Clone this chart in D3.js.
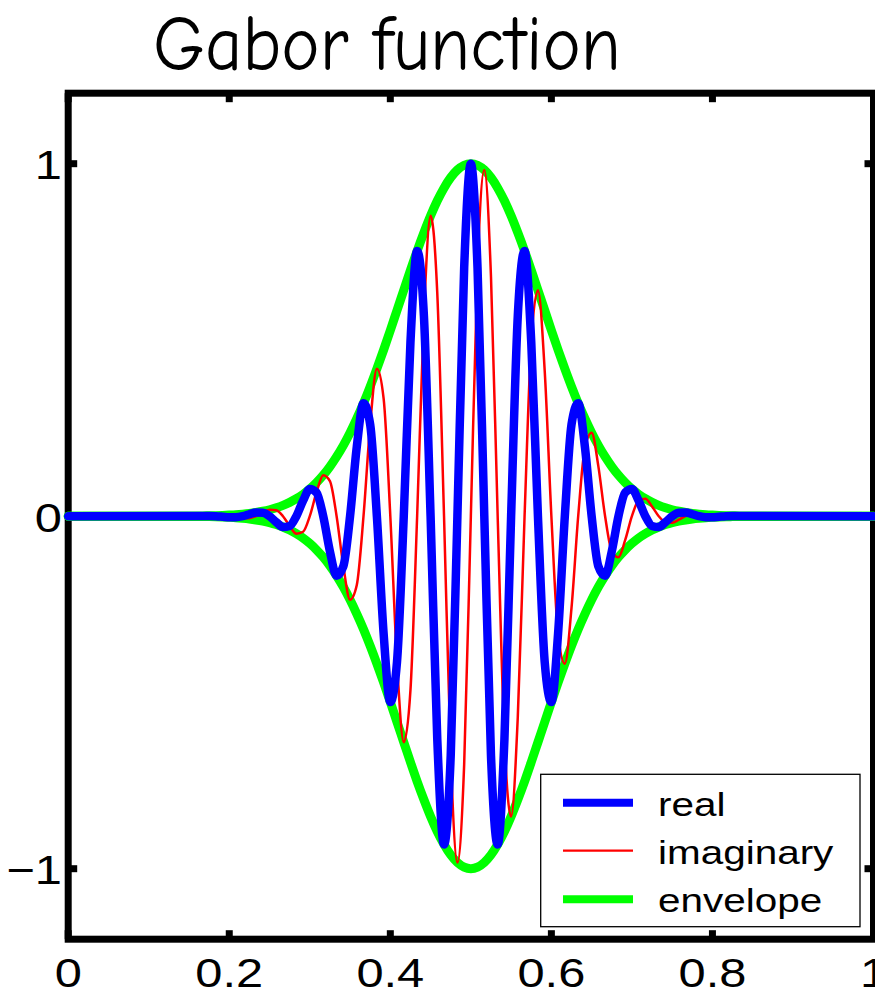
<!DOCTYPE html>
<html>
<head>
<meta charset="utf-8">
<script src="https://cdn.jsdelivr.net/npm/d3@7"></script>
<style>
  html, body { margin: 0; padding: 0; background: #fff; }
  svg { display: block; }
</style>
</head>
<body>
<svg id="chart" width="875" height="989"></svg>
<script>
// Sample positions along x (eighth-period spacing across the wave packet)
const sampleX = [0,
  0.1667, 0.175, 0.1833, 0.1917, 0.2, 0.2083, 0.2167, 0.225, 0.2333, 0.2417,
  0.25, 0.2583, 0.2667, 0.275, 0.2833, 0.2917, 0.3, 0.3083, 0.3167, 0.325,
  0.3333, 0.3417, 0.35, 0.3583, 0.3667, 0.375, 0.3833, 0.3917, 0.4, 0.4083,
  0.4167, 0.425, 0.4333, 0.4417, 0.45, 0.4583, 0.4667, 0.475, 0.4833, 0.4917,
  0.5,
  0.5083, 0.5167, 0.525, 0.5333, 0.5417, 0.55, 0.5583, 0.5667, 0.575, 0.5833,
  0.5917, 0.6, 0.6083, 0.6167, 0.625, 0.6333, 0.6417, 0.65, 0.6583, 0.6667,
  0.675, 0.6833, 0.6917, 0.7, 0.7083, 0.7167, 0.725, 0.7333, 0.7417, 0.75,
  0.7583, 0.7667, 0.775, 0.7833, 0.7917, 0.8, 0.8083, 0.8167, 0.825, 0.8333,
  1];

// Real part
const realPart = [0,
  0.0008, 0.0008, 0, -0.0016, -0.0032, -0.0030, 0, 0.0056, 0.0106, 0.0099,
  0, -0.0168, -0.0307, -0.0277, 0, 0.0440, 0.0773, 0.0674, 0, -0.0996,
  -0.1690, -0.1421, 0, 0.1957, 0.3205, 0.2601, 0, -0.3336, -0.5273, -0.4130,
  0, 0.4933, 0.7525, 0.5687, 0, -0.6327, -0.9314, -0.6794, 0, 0.7040,
  1,
  0.7040, 0, -0.6794, -0.9314, -0.6327, 0, 0.5687, 0.7525, 0.4933, 0,
  -0.4130, -0.5273, -0.3336, 0, 0.2601, 0.3205, 0.1957, 0, -0.1421, -0.1690,
  -0.0996, 0, 0.0674, 0.0773, 0.0440, 0, -0.0277, -0.0307, -0.0168, 0,
  0.0099, 0.0106, 0.0056, 0, -0.0030, -0.0032, -0.0016, 0, 0.0008, 0.0008,
  0];

// Imaginary part
const imagPart = [0,
  0, 0.0008, 0.0016, 0.0016, 0, -0.0030, -0.0059, -0.0056, 0, 0.0099,
  0.0183, 0.0168, 0, -0.0277, -0.0496, -0.0440, 0, 0.0674, 0.1164, 0.0996,
  0, -0.1421, -0.2369, -0.1957, 0, 0.2601, 0.4185, 0.3336, 0, -0.4130,
  -0.6412, -0.4933, 0, 0.5687, 0.8521, 0.6327, 0, -0.6794, -0.9824, -0.7040,
  0,
  0.7040, 0.9824, 0.6794, 0, -0.6327, -0.8521, -0.5687, 0, 0.4933, 0.6412,
  0.4130, 0, -0.3336, -0.4185, -0.2601, 0, 0.1957, 0.2369, 0.1421, 0,
  -0.0996, -0.1164, -0.0674, 0, 0.0440, 0.0496, 0.0277, 0, -0.0168, -0.0183,
  -0.0099, 0, 0.0056, 0.0059, 0.0030, 0, -0.0016, -0.0016, -0.0008, 0,
  0];

// Gaussian envelope (magnitude)
const envelope = [0,
  0.0008, 0.0012, 0.0016, 0.0023, 0.0032, 0.0043, 0.0059, 0.0079, 0.0106, 0.0140,
  0.0183, 0.0238, 0.0307, 0.0392, 0.0496, 0.0622, 0.0773, 0.0953, 0.1164, 0.1409,
  0.1690, 0.2010, 0.2369, 0.2768, 0.3205, 0.3679, 0.4185, 0.4718, 0.5273, 0.5841,
  0.6412, 0.6977, 0.7525, 0.8043, 0.8521, 0.8948, 0.9314, 0.9608, 0.9824, 0.9956,
  1,
  0.9956, 0.9824, 0.9608, 0.9314, 0.8948, 0.8521, 0.8043, 0.7525, 0.6977, 0.6412,
  0.5841, 0.5273, 0.4718, 0.4185, 0.3679, 0.3205, 0.2768, 0.2369, 0.2010, 0.1690,
  0.1409, 0.1164, 0.0953, 0.0773, 0.0622, 0.0496, 0.0392, 0.0307, 0.0238, 0.0183,
  0.0140, 0.0106, 0.0079, 0.0059, 0.0043, 0.0032, 0.0023, 0.0016, 0.0012, 0.0008,
  0];

const xTicks = [0, 0.2, 0.4, 0.6, 0.8, 1];
const xTickLabels = ["0", "0.2", "0.4", "0.6", "0.8", "1"];
const yTicks = [-1, 0, 1];
const yTickLabels = ["\u22121", "0", "1"];
const legendLabels = ["real", "imaginary", "envelope"];
const titleText = "Gabor function";

const svg = d3.select("#chart");
const x = d3.scaleLinear().domain([0, 1]).range([68.2, 873.5]);
const y = d3.scaleLinear().domain([-1.2, 1.2]).range([939.2, 93.2]);

const stretch = 1.19;
const labelFont = "'Liberation Sans', Arial, Helvetica, sans-serif";

// Title
svg.append("text")
  .attr("x", 153).attr("y", 70)
  .attr("textLength", 468).attr("lengthAdjust", "spacingAndGlyphs")
  .attr("font-family", "'Comic Sans MS', 'Comic Neue', Lato, sans-serif")
  .attr("font-size", 78)
  .attr("fill", "#000")
  .text(titleText);

// Axes box
const frame = svg.append("g");
frame.append("rect")
  .attr("x", x(0)).attr("y", y(1.2))
  .attr("width", x(1) - x(0)).attr("height", y(-1.2) - y(1.2))
  .attr("fill", "none").attr("stroke", "#000").attr("stroke-width", 7);

const tickLen = 9;
xTicks.forEach(t => {
  frame.append("line").attr("x1", x(t)).attr("x2", x(t))
    .attr("y1", y(-1.2)).attr("y2", y(-1.2) - tickLen)
    .attr("stroke", "#000").attr("stroke-width", 7);
  frame.append("line").attr("x1", x(t)).attr("x2", x(t))
    .attr("y1", y(1.2)).attr("y2", y(1.2) + tickLen)
    .attr("stroke", "#000").attr("stroke-width", 7);
});
yTicks.forEach(t => {
  frame.append("line").attr("x1", x(0)).attr("x2", x(0) + tickLen)
    .attr("y1", y(t)).attr("y2", y(t))
    .attr("stroke", "#000").attr("stroke-width", 7);
  frame.append("line").attr("x1", x(1)).attr("x2", x(1) - tickLen)
    .attr("y1", y(t)).attr("y2", y(t))
    .attr("stroke", "#000").attr("stroke-width", 7);
});

// Tick labels (slightly wide lettering)
xTicks.forEach((t, i) => {
  svg.append("g").attr("transform", `translate(${x(t)},${987}) scale(${stretch},1)`)
    .append("text")
    .attr("text-anchor", "middle")
    .attr("font-family", labelFont).attr("font-size", 41)
    .attr("fill", "#000")
    .text(xTickLabels[i]);
});
yTicks.forEach((t, i) => {
  svg.append("g").attr("transform", `translate(62,${y(t) + 15.5}) scale(${stretch},1)`)
    .append("text")
    .attr("text-anchor", "end")
    .attr("font-family", labelFont).attr("font-size", 41)
    .attr("fill", "#000")
    .text(yTickLabels[i]);
});

// Curves
const pts = arr => sampleX.map((v, i) => [v, arr[i]]);
const line = d3.line()
  .x(d => x(d[0])).y(d => y(d[1]))
  .curve(d3.curveMonotoneX);

const plot = svg.append("g").attr("fill", "none")
  .attr("stroke-linejoin", "round").attr("stroke-linecap", "round");

plot.append("path").attr("d", line(pts(envelope)))
  .attr("stroke", "#00ff00").attr("stroke-width", 9);
plot.append("path").attr("d", line(pts(envelope.map(v => -v))))
  .attr("stroke", "#00ff00").attr("stroke-width", 9);
plot.append("path").attr("d", line(pts(imagPart)))
  .attr("stroke", "#ff0000").attr("stroke-width", 2.5);
plot.append("path").attr("d", line(pts(realPart)))
  .attr("stroke", "#0000ff").attr("stroke-width", 8.5);

// Legend
const legend = svg.append("g");
legend.append("rect")
  .attr("x", 540.7).attr("y", 774.3).attr("width", 319.3).attr("height", 152.4)
  .attr("fill", "#fff").attr("stroke", "#000").attr("stroke-width", 1.3);
const legendStyles = [
  { color: "#0000ff", width: 8 },
  { color: "#ff0000", width: 2.2 },
  { color: "#00ff00", width: 8 }
];
const legendRows = [802.7, 850.7, 899.3];
legendLabels.forEach((lab, i) => {
  legend.append("line")
    .attr("x1", 563).attr("x2", 633)
    .attr("y1", legendRows[i]).attr("y2", legendRows[i])
    .attr("stroke", legendStyles[i].color).attr("stroke-width", legendStyles[i].width);
  legend.append("g")
    .attr("transform", `translate(658,${legendRows[i] + 13}) scale(${stretch},1)`)
    .append("text")
    .attr("font-family", labelFont).attr("font-size", 34)
    .attr("fill", "#000")
    .text(lab);
});
</script>
</body>
</html>
